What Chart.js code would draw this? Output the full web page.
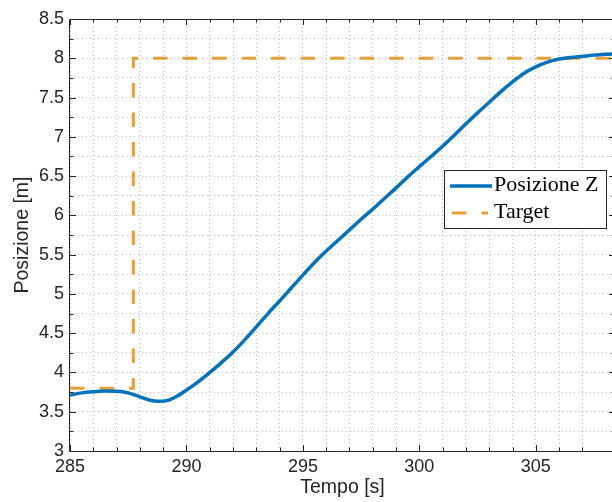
<!DOCTYPE html>
<html>
<head>
<meta charset="utf-8">
<script src="https://cdn.jsdelivr.net/npm/chart.js@4/dist/chart.umd.min.js"></script>
<style>
  html, body { margin: 0; padding: 0; background: #fff; overflow: hidden; }
  #graph { display: block; }
</style>
</head>
<body>
<canvas id="graph" width="620" height="502"></canvas>
<script>
// Tempo [s] / posizione misurata [m]
const tempo = [
    285.0, 285.5, 286.0, 286.5, 287.0, 287.5, 288.0, 288.4, 288.8, 289.2,
    289.6, 290.0, 290.5, 291.0, 291.5, 292.0, 292.5, 293.0, 293.5, 294.0,
    294.5, 295.0, 295.5, 296.0, 296.5, 297.0, 297.5, 298.0, 298.5, 299.0,
    299.5, 300.0, 300.5, 301.0, 301.5, 302.0, 302.5, 303.0, 303.5, 304.0,
    304.5, 305.0, 305.5, 306.0, 306.5, 307.0, 307.5, 308.0, 308.4
];
const posizioneZ = [
    3.71, 3.74, 3.755, 3.763, 3.76, 3.74, 3.69, 3.65, 3.632, 3.645,
    3.70, 3.775, 3.88, 4.00, 4.125, 4.26, 4.415, 4.58, 4.75, 4.91,
    5.075, 5.24, 5.40, 5.545, 5.68, 5.815, 5.95, 6.08, 6.215, 6.35,
    6.49, 6.62, 6.75, 6.88, 7.02, 7.165, 7.305, 7.44, 7.575, 7.70,
    7.81, 7.89, 7.95, 7.99, 8.01, 8.025, 8.04, 8.05, 8.055
];

// riferimento a gradino
const targetT = [285, 287.72, 287.72, 308.4];
const targetZ = [3.8, 3.8, 8, 8];

// etichette degli assi
const xTickLabels = [285, 290, 295, 300, 305];
const yTickLabels = [3, 3.5, 4, 4.5, 5, 5.5, 6, 6.5, 7, 7.5, 8, 8.5];

const axisColor = '#262626';
const gridColor = 'rgba(38,38,38,0.27)';
const blue = '#0072BD';
const orange = '#EA9F36';

function toPoints(xs, ys){
    let pts = new Array();
    for(let i=0; i<xs.length; i++){
        pts.push({x: xs[i], y: ys[i]});
    }
    return pts;
}

// box degli assi con tacche verso l'interno (anche sopra e a destra)
const axesBox = {
    id: 'axesBox',
    afterDatasetsDraw(chart){
        const {ctx, chartArea: a, scales} = chart;
        ctx.save();
        ctx.strokeStyle = axisColor;
        ctx.lineWidth = 1;
        ctx.beginPath();
        ctx.moveTo(a.left - 0.5, a.top + 0.5);
        ctx.lineTo(a.right + 0.5, a.top + 0.5);
        ctx.lineTo(a.right + 0.5, a.bottom + 0.5);
        ctx.lineTo(a.left - 0.5, a.bottom + 0.5);
        ctx.closePath();
        ctx.stroke();

        ctx.beginPath();
        scales.x.ticks.forEach(function(t){
            const px = Math.round(scales.x.getPixelForValue(t.value)) + 0.5;
            const len = xTickLabels.includes(t.value) ? 6 : 3.5;
            ctx.moveTo(px, a.bottom);
            ctx.lineTo(px, a.bottom - len);
            ctx.moveTo(px, a.top);
            ctx.lineTo(px, a.top + len);
        });
        scales.y.ticks.forEach(function(t){
            const py = Math.round(scales.y.getPixelForValue(t.value)) + 0.5;
            const len = yTickLabels.includes(t.value) ? 6 : 3.5;
            ctx.moveTo(a.left, py);
            ctx.lineTo(a.left + len, py);
            ctx.moveTo(a.right, py);
            ctx.lineTo(a.right - len, py);
        });
        ctx.stroke();
        ctx.restore();
    }
};

// legenda dentro l'area del grafico
const boxLegend = {
    id: 'boxLegend',
    afterDraw(chart){
        const ctx = chart.ctx;
        const left = 444.5, top = 170.5, w = 162, h = 58;
        ctx.save();
        ctx.fillStyle = '#fff';
        ctx.fillRect(left, top, w, h);
        ctx.strokeStyle = axisColor;
        ctx.lineWidth = 1;
        ctx.strokeRect(left, top, w, h);

        ctx.font = '22px "Liberation Serif", "Times New Roman", serif';
        ctx.fillStyle = '#000';
        ctx.textBaseline = 'alphabetic';
        chart.data.datasets.forEach(function(ds, i){
            const yLine = 186 + i * 27;
            ctx.strokeStyle = ds.borderColor;
            ctx.lineWidth = ds.borderWidth;
            ctx.setLineDash(ds.borderDash || []);
            ctx.beginPath();
            if(ds.borderDash){
                ctx.moveTo(452, yLine);
                ctx.lineTo(488, yLine);
            }
            else{
                ctx.moveTo(450, yLine);
                ctx.lineTo(492, yLine);
            }
            ctx.stroke();
            ctx.setLineDash([]);
            ctx.fillText(ds.label, 494, yLine + 5);
        });
        ctx.restore();
    }
};

let tickFont = { family: '"Liberation Sans", Arial, sans-serif', size: 18 };
let titleFont = { family: '"Liberation Sans", Arial, sans-serif', size: 19.5 };

new Chart(document.getElementById('graph'), {
    type: 'line',
    data: {
        datasets: [
            {
                label: 'Posizione Z',
                data: toPoints(tempo, posizioneZ),
                borderColor: blue,
                borderWidth: 3.5,
                pointRadius: 0,
                cubicInterpolationMode: 'monotone',
                fill: false
            },
            {
                label: 'Target',
                data: toPoints(targetT, targetZ),
                borderColor: orange,
                borderWidth: 3,
                borderDash: [14.5, 15],
                borderJoinStyle: 'miter',
                pointRadius: 0,
                tension: 0,
                fill: false
            }
        ]
    },
    options: {
        responsive: false,
        animation: false,
        devicePixelRatio: 1,
        layout: { padding: { top: 19, right: 5, left: 0, bottom: 0 } },
        plugins: {
            legend: { display: false },
            tooltip: { enabled: false }
        },
        scales: {
            x: {
                type: 'linear',
                min: 285,
                max: 308.4,
                afterFit: function(scale){ scale.height = 51; },
                grid: { color: gridColor, lineWidth: 1, drawTicks: false },
                border: { display: false, dash: [1, 3] },
                ticks: {
                    stepSize: 1,
                    autoSkip: false,
                    maxRotation: 0,
                    padding: 5,
                    color: axisColor,
                    font: tickFont,
                    callback: function(value){
                        return xTickLabels.includes(value) ? String(value) : '';
                    }
                },
                title: {
                    display: true,
                    text: 'Tempo [s]',
                    color: axisColor,
                    font: titleFont,
                    padding: { top: 0, bottom: 3 }
                }
            },
            y: {
                type: 'linear',
                min: 3,
                max: 8.5,
                afterFit: function(scale){ scale.width = 70; },
                grid: { color: gridColor, lineWidth: 1, drawTicks: false },
                border: { display: false, dash: [1, 3] },
                ticks: {
                    stepSize: 0.25,
                    autoSkip: false,
                    padding: 6,
                    color: axisColor,
                    font: tickFont,
                    callback: function(value){
                        return yTickLabels.includes(value) ? String(value) : '';
                    }
                },
                title: {
                    display: true,
                    text: 'Posizione [m]',
                    color: axisColor,
                    font: titleFont,
                    padding: { top: 11, bottom: 0 }
                }
            }
        }
    },
    plugins: [axesBox, boxLegend]
});
</script>
</body>
</html>
